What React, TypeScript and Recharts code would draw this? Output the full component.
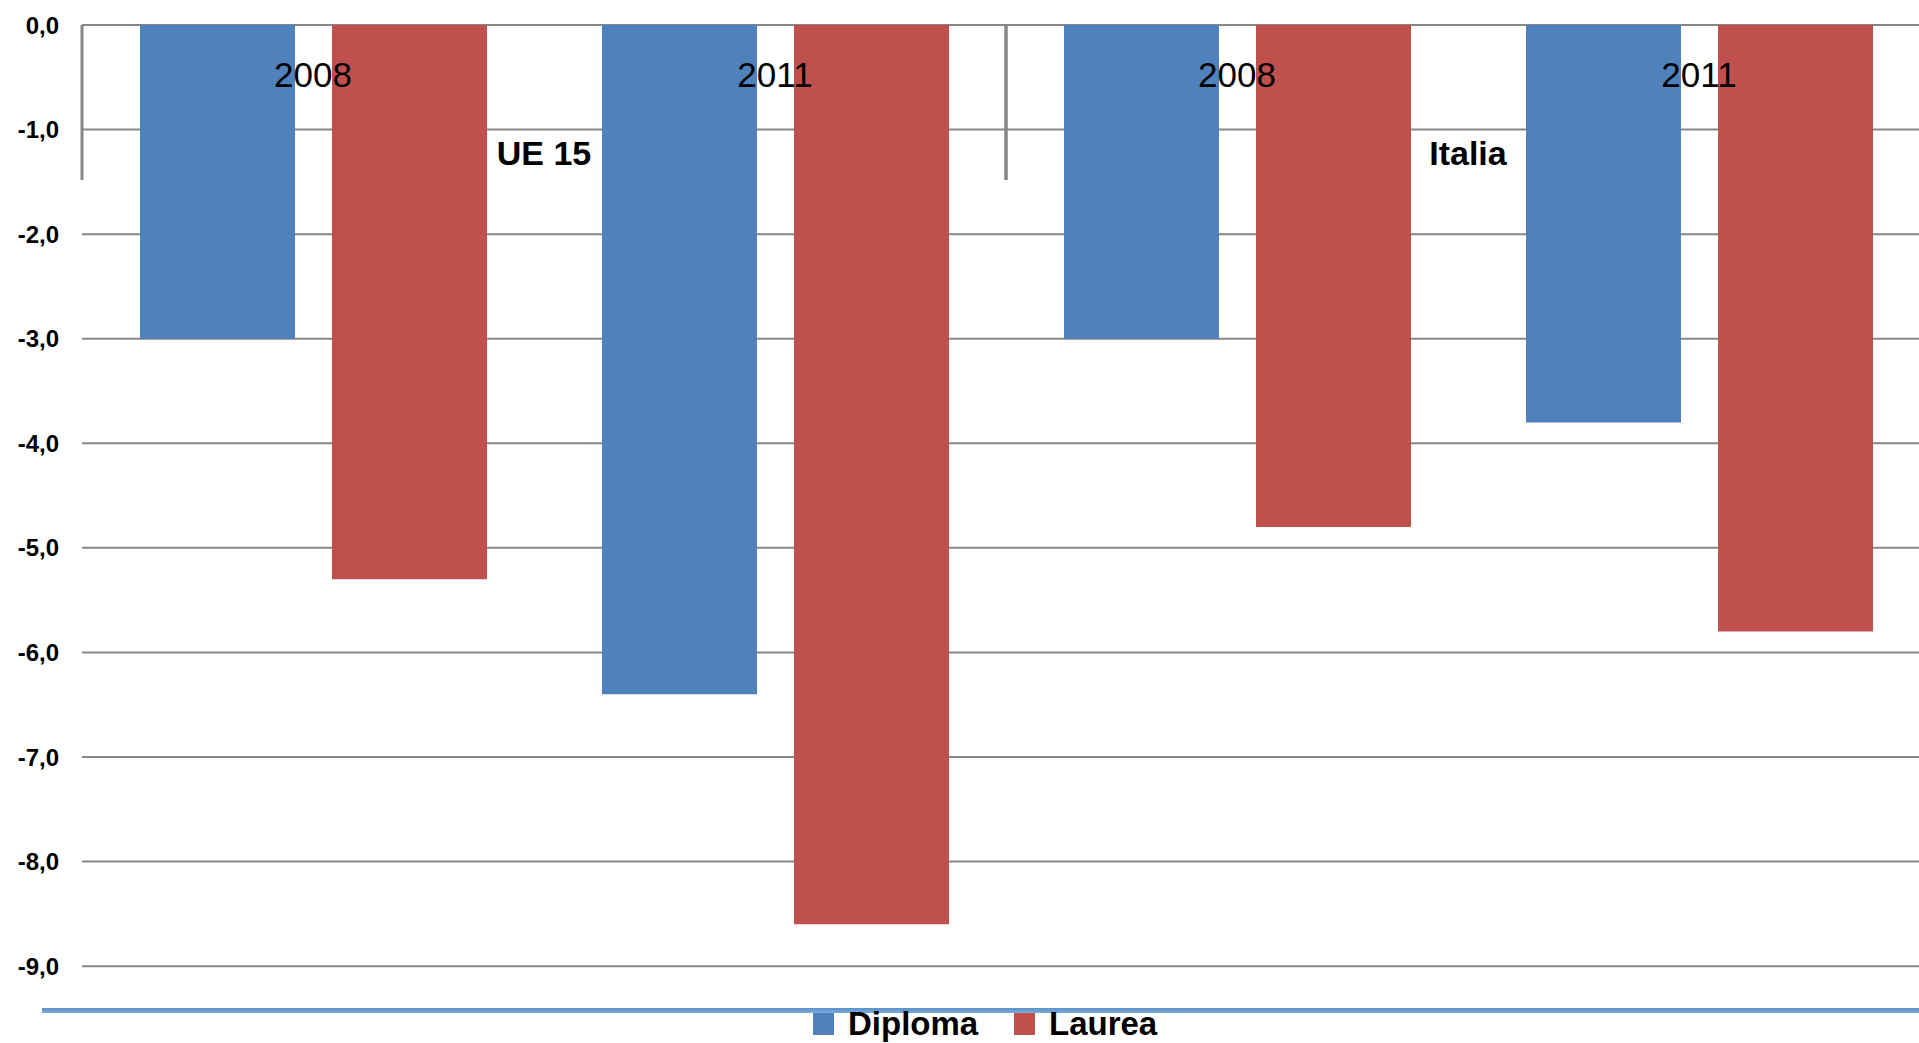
import { Bar, BarChart, CartesianGrid, Legend, XAxis, YAxis } from 'recharts';

const groups = ['UE 15', 'UE 15', 'Italia', 'Italia'];
const years = ['2008', '2011', '2008', '2011'];
const diploma = [-3.0, -6.4, -3.0, -3.8];
const laurea = [-5.3, -8.6, -4.8, -5.8];
const yTicks = [0, -1, -2, -3, -4, -5, -6, -7, -8, -9];
const seriesNames = ['Diploma', 'Laurea'];
const seriesColors = ['#4F81BD', '#C0504D'];

const data = groups.map((group, i) => ({
  group,
  year: years[i],
  Diploma: diploma[i],
  Laurea: laurea[i],
}));

const font = '"Liberation Sans", Arial, sans-serif';
const gridColor = '#868686';

const fmt = (v: number) => (v === 0 ? '0,0' : v.toFixed(1).replace('.', ','));

// tick y is the top edge of the plot (axis has height 1, no tick size/margin)
function YearTick({ x, y, payload }: any) {
  return (
    <text x={x} y={y + 63} textAnchor="middle" fontFamily={font} fontSize={35} fill="#000">
      {payload.value}
    </text>
  );
}

function GroupTick({ x, y, payload }: any) {
  const half = payload.offset || 462;
  return (
    <g>
      <line x1={x - half} x2={x - half} y1={y} y2={y + 155} stroke={gridColor} strokeWidth={3} />
      <line x1={x + half} x2={x + half} y1={y} y2={y + 155} stroke={gridColor} strokeWidth={3} />
      <text
        x={x}
        y={y + 140}
        textAnchor="middle"
        fontFamily={font}
        fontWeight="bold"
        fontSize={34}
        fill="#000"
      >
        {payload.value}
      </text>
    </g>
  );
}

function LegendBox() {
  const itemX = [813, 1014];
  return (
    <div style={{ position: 'relative', width: 1930, height: 30 }}>
      <div
        style={{
          position: 'absolute',
          left: 42,
          top: 0,
          width: 1900,
          height: 5,
          background: 'linear-gradient(#5A90CC, #7AAAD8)',
        }}
      />
      {seriesNames.map((name, i) => (
        <div key={name}>
          <div
            style={{
              position: 'absolute',
              left: itemX[i],
              top: 5,
              width: 21,
              height: 22,
              background: seriesColors[i],
            }}
          />
          <div
            style={{
              position: 'absolute',
              left: itemX[i] + 35,
              top: -3,
              fontFamily: font,
              fontWeight: 'bold',
              fontSize: 33,
              lineHeight: '38px',
              color: '#000',
              whiteSpace: 'nowrap',
            }}
          >
            {name}
          </div>
        </div>
      ))}
    </div>
  );
}

export default function App() {
  return (
    <div
      style={{
        position: 'absolute',
        left: 0,
        top: 0,
        width: 1919,
        height: 1043,
        overflow: 'hidden',
        background: '#fff',
      }}
    >
      <BarChart
        width={1930}
        height={1043}
        data={data}
        margin={{ top: 23, right: 0, bottom: 5, left: 0 }}
        barSize={155}
        barGap={37}
      >
        <CartesianGrid
          xAxisId="year"
          vertical={false}
          horizontalValues={yTicks}
          stroke={gridColor}
          strokeWidth={2}
        />
        <YAxis
          domain={[-9.4, 0]}
          ticks={yTicks}
          width={82}
          axisLine={false}
          tickLine={false}
          tickSize={0}
          tickMargin={23}
          tickFormatter={fmt}
          tick={{ fontFamily: font, fontWeight: 'bold', fontSize: 24, fill: '#000' }}
        />
        <Legend verticalAlign="bottom" align="left" content={() => <LegendBox />} />
        {seriesNames.map((name, i) => (
          <Bar
            key={name}
            xAxisId="year"
            dataKey={name}
            fill={seriesColors[i]}
            isAnimationActive={false}
          />
        ))}
        <XAxis
          xAxisId="year"
          dataKey="year"
          orientation="top"
          height={1}
          axisLine={false}
          tickLine={false}
          tickSize={0}
          tickMargin={0}
          interval={0}
          tick={(props: any) => <YearTick {...props} />}
        />
        <XAxis
          xAxisId="group"
          dataKey="group"
          orientation="top"
          height={1}
          allowDuplicatedCategory={false}
          axisLine={false}
          tickLine={false}
          tickSize={0}
          tickMargin={0}
          interval={0}
          tick={(props: any) => <GroupTick {...props} />}
        />
      </BarChart>
    </div>
  );
}
